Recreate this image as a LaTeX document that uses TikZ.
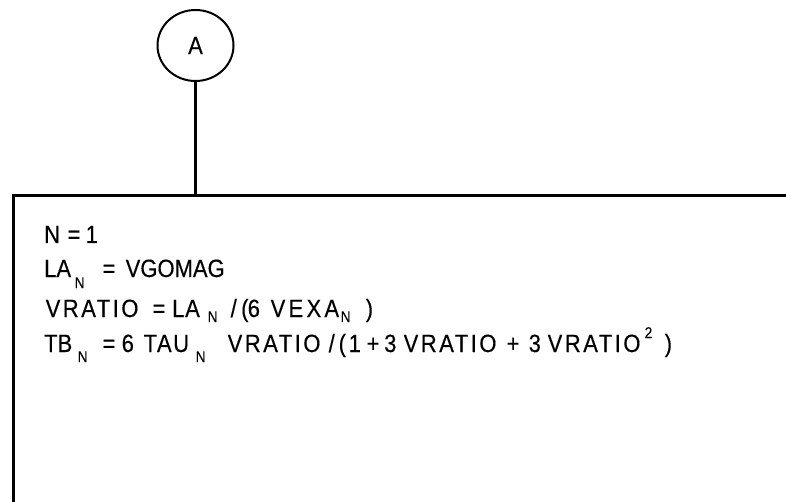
\documentclass[tikz,border=0pt]{standalone}
\usepackage{fontspec}
\usepackage{xcolor}
\usepackage{tikz}
\usetikzlibrary{shapes.geometric, positioning, calc}
\setmainfont{Liberation Sans}
\newfontfamily\chartfont[FakeStretch=0.88, FakeBold=0.3]{Liberation Sans}
\definecolor{myink}{RGB}{0,0,0}
% text pieces set at a fixed offset in the line
\newcommand{\piece}[2]{\makebox[0pt][l]{\hspace*{#1pt}#2}}
\newcommand{\spw}[2]{{\addfontfeature{LetterSpace=#1}#2}}
\newcommand{\lsub}[2]{\raisebox{-#1pt}{\fontsize{15.5}{15.5}\selectfont #2}}
\newcommand{\lsup}[2]{\raisebox{#1pt}{\fontsize{15.5}{15.5}\selectfont #2}}
\tikzset{
  connector/.style={ellipse, draw=myink, line width=2pt,
    minimum width=76pt, minimum height=71pt, inner sep=0pt,
    font=\chartfont\fontsize{25}{29}\selectfont},
  procbox/.style={rectangle, draw=myink, line width=3pt,
    minimum width=820pt, minimum height=340pt, inner sep=0pt},
  stmt/.style={anchor=base west, inner sep=0pt,
    font=\chartfont\fontsize{25}{29}\selectfont},
  flowline/.style={line width=2.2pt, color=myink}
}

\begin{document}
\begin{tikzpicture}[x=1pt, y=1pt]
  \useasboundingbox (0,0) rectangle (786,501);
  \clip (0,0) rectangle (786,501);

  \node[connector] (A) at (195.5,455.5) {A\hspace{16pt}};
  \node[procbox, anchor=north west] (box) at (11.7,306.5) {};

  \draw[flowline] (A.south) -- (A.south |- box.north);

  % statements in the box
  \node[stmt] (l1) at (45,258) {\piece{-1.5}{N}\piece{22}{=}\piece{40}{1}};
  \node[stmt] (l2) at (45,224) {\piece{-1.5}{LA}\piece{29}{\lsub{11}{N}}\piece{57}{=}\piece{80}{VGOMAG}};
  \node[stmt] (l3) at (45,184) {\piece{0}{\spw{10}{VRATIO}}\piece{107}{=}\piece{126.5}{\spw{3}{LA}}\piece{162}{\lsub{5}{N}}\piece{185}{/}\piece{195.5}{(}\piece{202}{6}\piece{225}{\spw{13}{VEXA}}\piece{295}{\lsub{5}{N}}\piece{320}{)}};
  \node[stmt] (l4) at (45,149) {\piece{-1.5}{TB}\piece{32}{\lsub{10}{N}}\piece{57}{=}\piece{76}{6}\piece{98}{\spw{6}{TAU}}\piece{150}{\lsub{10}{N}}\piece{182}{\spw{10}{VRATIO}}\piece{283}{/}\piece{293}{(}\piece{303}{1}\piece{321}{+}\piece{338.5}{3}\piece{358}{\spw{10}{VRATIO}}\piece{461}{+}\piece{483}{3}\piece{502}{\spw{10}{VRATIO}}\piece{599}{\lsup{14}{2}}\piece{619}{)}};
\end{tikzpicture}
\end{document}
